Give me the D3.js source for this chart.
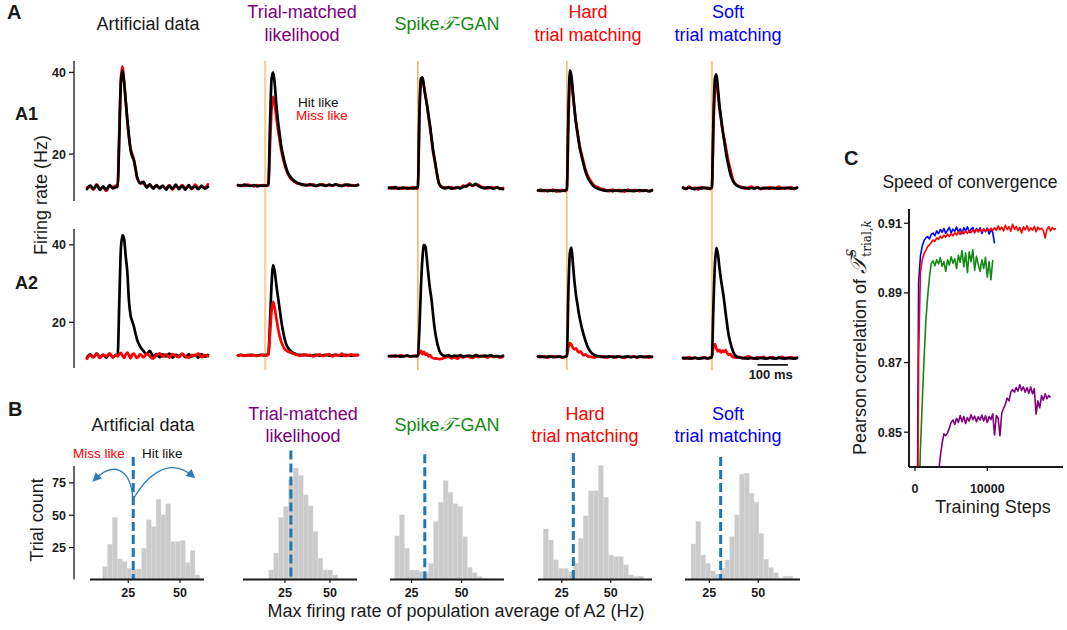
<!DOCTYPE html>
<html><head><meta charset="utf-8">
<script src="https://cdn.jsdelivr.net/npm/d3@7"></script>
<style>
body{margin:0;background:#fff}
text{font-family:"Liberation Sans",Arial,Helvetica,sans-serif}
</style>
</head><body>
<svg id="c" width="1067" height="630"></svg>
<script>
// ================= DATA =================
const methodTitles = [["Artificial data"],["Trial-matched","likelihood"],["Spike𝒯-GAN"],["Hard","trial matching"],["Soft","trial matching"]];

// Panel A: time (ms) of each sample, firing rates (Hz)
const aTimes = [-95,-85,-75,-65,-55,-45,-35,-25,-15,-5,0,5,10,15,20,25,30,35,40,45,50,55,60,70,80,90,100,110,120,130,140,150,160,170,180,190,200,210,220,230,240,250,260,270,280];
const aStimTimes = [null,-10,0,0,0];
const aYTicks = [20,40];

const a1ArtHit = [11.4,12.3,11.5,12.4,11.2,12.1,11.3,12.4,11.6,11.9, 12.0,24,37.5,40.5,37.5,33,28.5,24.5,21,19.5,18.5,16.5,14.5, 12.8,13.2,11.8,12.6,11.5,12.4,11.6,12.3,11.3,12.2,11.5,12.5,11.4,12.2,11.3,12.4,11.6,12.1,11.4,12.3,11.5,12.0];
const a1ArtMiss = [11.8,12.0,11.3,12.6,11.5,11.8,11.0,12.2,11.9,12.3, 12.2,25,38.5,41.5,38,33,28,24,21.5,20,18.8,16.8,14.2, 13.0,12.8,12.2,12.3,11.8,12.1,11.9,12.0,11.6,12.4,11.3,12.2,11.7,12.4,11.6,12.1,11.4,12.5,11.7,12.0,11.8,12.6];
const a1TmlHit = [12.4,12.2,12.5,12.3,12.2,12.4,12.1,12.3,12.2,12.3, 12.6,27,38.5,40,37,32,28,25,22,20,18.2,16.8,15.6, 14.3,13.5,13.0,12.7,12.5,12.3,12.6,12.3,12.2,12.5,12.4,12.2,12.5,12.3,12.6,12.3,12.2,12.4,12.5,12.3,12.2,12.4];
const a1TmlMiss = [12.3,12.4,12.2,12.5,12.3,12.1,12.4,12.2,12.4,12.2, 12.4,22,31,34,32,29,26,23.5,21,19.2,17.6,16.3,15.3, 14.0,13.3,12.8,12.6,12.4,12.5,12.3,12.6,12.2,12.4,12.6,12.3,12.4,12.2,12.5,12.4,12.3,12.6,12.2,12.4,12.3,12.5];
const a1GanHit = [11.8,11.6,11.9,11.5,11.7,11.8,11.5,11.7,11.6,11.8, 12.0,30,38.5,38.8,36.5,34,32,29.5,27,24,21,18.8,16.5, 12.6,11.8,11.6,11.9,11.5,11.7,11.8,11.6,12.0,12.2,12.5,12.3,12.7,12.1,11.8,11.6,11.9,11.7,11.5,11.8,11.6,11.4];
const a1GanMiss = [11.6,11.9,11.5,11.8,11.6,11.5,11.8,11.6,11.9,11.5, 11.8,29,38,38.5,36.5,34.5,32,29,26.5,23.5,20.5,18.5,16.2, 12.8,11.9,11.8,11.7,11.9,11.5,11.9,11.8,12.3,12.0,12.8,12.2,12.5,12.4,11.9,11.8,11.6,11.9,11.7,11.9,11.4,11.7];
const a1HardHit = [11.1,11.0,11.2,10.9,11.1,11.0,11.2,10.9,11.0,11.1, 11.5,30,40.5,39,35,31,27.5,25,22.5,20.5,19,17.5,16, 14,12.8,12,11.6,11.3,11.1,11.0,11.2,10.9,11.1,11.0,10.9,11.2,11.0,11.1,10.9,11.0,11.2,11.0,11.1,10.9,11.1];
const a1HardMiss = [11.0,11.3,10.9,11.2,11.0,11.3,10.8,11.1,11.2,10.9, 11.3,28,37.5,38,34.5,31,28,25.5,23,21,19.5,18,16.5, 14.5,13.2,12.3,11.9,11.5,11.4,11.1,10.9,11.3,11.0,11.2,11.1,10.8,11.3,10.9,11.2,11.1,10.9,11.2,11.0,10.9,11.2];
const a1SoftHit = [11.7,11.5,11.8,11.6,11.4,11.7,11.6,11.8,11.5,11.6, 12,28,38.5,39.5,36,32,29,26,23.5,21,18.8,17,15.3, 13.3,12.4,12.0,11.7,11.8,11.5,11.7,11.6,11.8,11.5,11.6,11.7,11.5,11.8,11.6,11.5,11.7,11.6,11.8,11.5,11.6,11.7];
const a1SoftMiss = [11.9,11.4,12.0,11.5,11.8,11.3,11.9,11.6,11.8,11.4, 11.8,26,36,37,34.5,31,28.5,26,24,22,20,18,16.5, 13.6,12.5,12.1,11.9,11.5,11.8,12.0,11.6,11.9,11.4,11.8,11.6,11.9,11.5,11.7,12.0,11.5,11.8,11.6,11.9,11.4,11.8];

const a2ArtHit = [10.9,11.7,11.0,11.9,11.2,11.6,10.9,11.8,11.1,11.5, 11.4,25,39,42.5,41.5,37,33,25.5,21.8,20.3,19,17.2,15.6, 13.7,12.6,11.8,12.6,11.2,11.8,11.0,11.7,11.2,11.9,10.9,11.6,11.3,11.8,11.0,11.7,11.2,11.6,10.9,11.8,11.1,11.6];
const a2ArtMiss = [10.6,11.5,11.0,11.9,10.8,11.6,11.2,12.0,10.9,11.6, 11.2,11.8,12.1,11.4,10.8,11.7,12.2,11.5,10.7,11.6,11.9,11.3,10.8, 11.7,11.0,11.9,11.2,10.6,11.5,12.0,11.1,11.7,10.9,11.8,11.3,11.0,11.9,11.2,10.8,11.6,11.4,11.9,11.0,11.5,11.2];
const a2TmlHit = [11.5,11.6,11.4,11.5,11.6,11.5,11.4,11.6,11.5,11.6, 11.8,20,30,34.8,33,29.5,26.5,23.5,20.5,18,16,14.5,13.6, 12.6,12.0,11.7,11.6,11.5,11.6,11.4,11.5,11.6,11.4,11.5,11.6,11.4,11.5,11.6,11.5,11.4,11.6,11.5,11.4,11.6,11.5];
const a2TmlMiss = [11.4,11.5,11.3,11.6,11.4,11.5,11.3,11.5,11.6,11.4, 11.6,17,23,25.3,23.5,21,18.5,16.5,15,14,13.2,12.8,12.5, 12.2,11.8,11.6,11.3,11.7,11.4,11.6,11.2,11.5,11.7,11.3,11.5,11.8,11.2,11.6,11.4,11.9,11.3,11.5,11.7,11.4,11.6];
const a2GanHit = [11.3,11.2,11.4,11.3,11.1,11.3,11.4,11.2,11.3,11.2, 11.4,18,29,36.5,40,39.5,36,32,28.5,25.8,22,18.5,16, 12.8,11.6,11.3,11.5,11.2,11.4,11.3,11.5,11.2,11.3,11.4,11.2,11.5,11.3,11.2,11.4,11.3,11.5,11.2,11.3,11.1,11.4];
const a2GanMiss = [11.2,11.4,11.1,11.3,11.5,11.2,11.4,11.1,11.3,11.4, 11.5,12,12.6,11.8,12.4,11.6,11.9,11.2,11.5,11.0,10.8,10.6,10.7, 10.5,10.6,10.9,11.1,10.7,11.0,10.6,11.2,10.9,11.3,11.0,10.8,11.2,11.0,11.4,11.1,10.9,11.3,11.0,11.2,10.9,11.1];
const a2HardHit = [11.1,11.2,11.0,11.1,11.2,11.0,11.1,11.2,11.0,11.1, 11.3,28,38,39.3,35,30.5,27,24.5,22,20,18.3,16.8,15.5, 13.4,12.2,11.6,11.3,11.2,11.0,11.1,11.2,11.0,11.1,11.2,11.0,11.1,11.2,11.0,11.1,11.0,11.2,11.1,11.0,11.2,11.1];
const a2HardMiss = [11.2,11.0,11.3,10.9,11.1,11.3,11.0,11.2,10.9,11.1, 11.4,13.5,14.6,14.2,13.4,13.0,13.3,12.6,12.2,12.5,11.9,11.5,11.7, 11.2,11.1,10.9,11.2,11.0,11.3,10.9,11.1,11.2,10.9,11.2,11.0,10.8,11.2,11.0,11.3,10.9,11.1,11.0,11.2,10.9,11.1];
const a2SoftHit = [10.7,10.8,10.6,10.7,10.8,10.6,10.7,10.8,10.7,10.8, 11,24,35,39.2,37.5,34,31,28.5,25.8,22.5,19.5,16.8,15, 12.4,11.2,10.9,10.8,10.7,10.6,10.8,10.7,10.6,10.8,10.7,10.6,10.8,10.7,10.6,10.8,10.7,10.6,10.8,10.7,10.6,10.8];
const a2SoftMiss = [10.9,10.6,11.0,10.7,10.9,10.6,10.8,11.0,10.7,10.9, 11.2,13.5,14.4,13.2,12.5,12.9,12.2,12.7,12.3,12.8,12.1,11.6,11.8, 11.0,10.9,11.1,10.7,10.9,11.2,10.8,10.6,11.0,10.8,11.1,10.7,10.9,11.0,10.6,10.9,11.1,10.8,10.7,11.0,10.8,10.9];

// Panel B: histograms of max firing rate (Hz) -> trial counts
const bBinStarts = [12.6,16.0,16.6,15.6,15.7];
const bBinWidths = [2.35,2.73,2.42,2.55,2.47];
const bArt  = [10.3,27.6,48.2,16.2,14.2,9,8,8.5,24.5,46.4,41.2,62.4,50.3,58.8,29.6,29.6,30.4,13.4,22.7,3.9];
const bTml  = [7.7,20.6,48.2,56.7,77.3,86.4,80.7,65.7,57.2,37.4,16.8,7.7,7.7,3.9];
const bGan  = [34,50.3,24.5,7.7,7.7,6.4,6,12.9,45.1,60.1,76.8,67.8,58.8,56.7,33.5,9.5,5.6,2.6,1.5,1.0,0.8,0.5];
const bHard = [39.4,30.9,15.5,9,9,6.4,12.9,32.2,49.5,68.8,68.8,88.4,63.9,19.3,18,18,11.6,3.9,2.6,3,0.5];
const bSoft = [27.8,45.1,19.3,12.9,7,4.5,9,15.5,33.5,50.3,81.7,82.5,67,60.1,36.1,16,9.5,5.6,1.5,3,3,1];
const bThresholds = [27.4,28.3,31.6,30.9,30.8];
const bThreshTops = [95,100,97,98,95];
const bXTicks = [25,50];
const bYTicks = [25,50,75];

// Panel C: Pearson correlation vs training steps (sampled every 250 steps)
const cStepInterval = 250;
const cBlueStart = 250;
const cBlue = [0.800,0.893,0.9005,0.9035,0.9050,0.9058,0.9062,0.9055,0.9068,0.9072,0.9064,0.9078,0.9070,0.9082,0.9074,0.9085,0.9071,0.9080,0.9088,0.9072,0.9083,0.9077,0.9089,0.9075,0.9084,0.9070,0.9087,0.9078,0.9090,0.9074,0.9083,0.9088,0.9073,0.9085,0.9078,0.9087,0.9071,0.9083,0.9076,0.9086,0.9069,0.9080,0.9074,0.9042];
const cRedStart = 250;
const cRed = [0.780,0.872,0.8960,0.8995,0.9012,0.9022,0.9033,0.9038,0.9045,0.9052,0.9048,0.9058,0.9054,0.9063,0.9057,0.9066,0.9060,0.9069,0.9062,0.9071,0.9064,0.9073,0.9066,0.9075,0.9068,0.9077,0.9070,0.9078,0.9071,0.9079,0.9073,0.9081,0.9074,0.9082,0.9075,0.9083,0.9076,0.9084,0.9077,0.9083,0.9078,0.9086,0.9079,0.9087,0.9080,0.9092,0.9081,0.9089,0.9078,0.9094,0.9082,0.9090,0.9077,0.9097,0.9083,0.9091,0.9079,0.9088,0.9072,0.9090,0.9081,0.9093,0.9078,0.9087,0.9080,0.9091,0.9076,0.9089,0.9082,0.9086,0.9079,0.9058,0.9083,0.9090,0.9078,0.9088,0.9082,0.9085];
const cGreenStart = 500;
const cGreen = [0.826,0.845,0.8585,0.871,0.882,0.889,0.8945,0.8985,0.8992,0.8978,0.8995,0.8983,0.9001,0.8976,0.8990,0.8962,0.8995,0.8980,0.9004,0.8985,0.8998,0.8970,0.9008,0.8988,0.9022,0.8975,0.9015,0.8958,0.9018,0.8990,0.9024,0.8965,0.9005,0.8982,0.8962,0.8995,0.8970,0.9002,0.8945,0.8990,0.8938,0.8995];
const cPurpleStart = 3250;
const cPurple = [0.838,0.843,0.8468,0.8495,0.8490,0.8498,0.8512,0.8528,0.8535,0.8522,0.8540,0.8528,0.8548,0.8530,0.8545,0.8525,0.8542,0.8532,0.8550,0.8536,0.8546,0.8530,0.8544,0.8535,0.8549,0.8532,0.8547,0.8528,0.8545,0.8536,0.8553,0.8492,0.8548,0.8540,0.8490,0.8555,0.8568,0.8580,0.8598,0.8590,0.8615,0.8622,0.8615,0.8628,0.8618,0.8636,0.8620,0.8630,0.8615,0.8628,0.8612,0.8630,0.8610,0.8625,0.8552,0.8590,0.8570,0.8605,0.8592,0.8610,0.8596,0.8605,0.8600];
const cXTicks = [0,10000];
const cYTicks = [0.85,0.87,0.89,0.91];

// ================= DRAWING =================
const svg = d3.select("#c");
svg.append("rect").attr("width",1067).attr("height",630).attr("fill","#fff");
const INK = "#1a1a1a";
const methodColors = [INK,"#800080","#138a13","#ff0000","#0000ff"];

function label(x,y,s,o={}){
  return svg.append("text").attr("x",x).attr("y",y).text(s)
    .attr("font-size",o.size||18).attr("fill",o.fill||INK)
    .attr("font-weight",o.weight||"normal")
    .attr("text-anchor",o.anchor||"middle");
}
function title(cx, lines, color, y1, y2, ysingle){
  if(lines.length===1){
    const s = lines[0];
    const t = svg.append("text").attr("x",cx).attr("y",ysingle).attr("font-size",18)
      .attr("fill",color).attr("text-anchor","middle");
    if(s.includes("𝒯")){
      const parts = s.split("𝒯");
      t.append("tspan").text(parts[0]);
      t.append("tspan").text("𝒯").attr("font-family","'DejaVu Serif',serif").attr("font-style","italic").attr("font-size",19);
      t.append("tspan").text(parts[1]);
    } else t.text(s);
  } else {
    label(cx,y1,lines[0],{fill:color});
    label(cx,y2,lines[1],{fill:color});
  }
}

// Panel letters
label(7,19,"A",{size:20,weight:"bold",anchor:"start"});
label(8,416,"B",{size:20,weight:"bold",anchor:"start"});
label(844,165,"C",{size:20,weight:"bold",anchor:"start"});

// ---------- Panel A ----------
const aXR = [[87,208],[238,358],[389,503],[538,652],[683,797]];
const aCX = [148,302,447,588,728];
const bCX = [143,303,447,585,728];
const yA1 = d3.scaleLinear().domain([8.5,42.8]).range([201,61]);
const yA2 = d3.scaleLinear().domain([8.2,44.1]).range([368,229]);
const a1Hit=[a1ArtHit,a1TmlHit,a1GanHit,a1HardHit,a1SoftHit];
const a1Miss=[a1ArtMiss,a1TmlMiss,a1GanMiss,a1HardMiss,a1SoftMiss];
const a2Hit=[a2ArtHit,a2TmlHit,a2GanHit,a2HardHit,a2SoftHit];
const a2Miss=[a2ArtMiss,a2TmlMiss,a2GanMiss,a2HardMiss,a2SoftMiss];
const stimStyle = [null,{c:"#fbd09a",w:2.2},{c:"#f0a030",w:1.2},{c:"#eba040",w:1.1},{c:"#f9cc92",w:2.2}];

methodTitles.forEach((lines,i)=>title(aCX[i],lines,methodColors[i],18,40.5,30));

function yAxis(x, y, ticks, y0, y1){
  const g = svg.append("g");
  g.append("line").attr("x1",x).attr("x2",x).attr("y1",y0).attr("y2",y1).attr("stroke",INK).attr("stroke-width",1.3);
  ticks.forEach(t=>{
    g.append("line").attr("x1",x-5).attr("x2",x).attr("y1",y(t)).attr("y2",y(t)).attr("stroke",INK).attr("stroke-width",1.3);
    g.append("text").attr("x",x-8).attr("y",y(t)+4.5).attr("text-anchor","end").attr("font-size",12.5)
      .attr("font-weight","bold").attr("fill",INK).text(t);
  });
}
yAxis(74,yA1,aYTicks,61,201);
yAxis(74,yA2,aYTicks,229,368);
label(15,120,"A1",{size:18,weight:"bold",anchor:"start"});
label(15,289,"A2",{size:18,weight:"bold",anchor:"start"});
svg.append("text").attr("transform","translate(47,195) rotate(-90)").attr("text-anchor","middle")
  .attr("font-size",18).attr("fill",INK).text("Firing rate (Hz)");

const aXScales = aXR.map(r=>d3.scaleLinear().domain([-95,280]).range(r));
aXScales.forEach((xs,i)=>{
  if(aStimTimes[i]!==null){
    svg.append("line").attr("x1",xs(aStimTimes[i])).attr("x2",xs(aStimTimes[i]))
      .attr("y1",61).attr("y2",370).attr("stroke",stimStyle[i].c).attr("stroke-width",stimStyle[i].w);
  }
});
function trace(xs, ys, vals, color){
  const ln = d3.line().x((d,i)=>xs(aTimes[i])).y(d=>ys(d)).curve(d3.curveMonotoneX);
  svg.append("path").attr("d",ln(vals)).attr("fill","none").attr("stroke",color)
    .attr("stroke-width",2.7).attr("stroke-linejoin","round").attr("stroke-linecap","round");
}
aXScales.forEach((xs,i)=>{
  trace(xs,yA1,a1Miss[i],"#ff0000");
  trace(xs,yA1,a1Hit[i],"#000000");
  if(i<2){ trace(xs,yA2,a2Hit[i],"#000000"); trace(xs,yA2,a2Miss[i],"#ff0000"); }
  else { trace(xs,yA2,a2Miss[i],"#ff0000"); trace(xs,yA2,a2Hit[i],"#000000"); }
});
label(298,107,"Hit like",{size:13.5,anchor:"start",fill:"#111"});
label(296,120,"Miss like",{size:13.5,anchor:"start",fill:"#ff0000"});
// scale bar (100 ms)
{
  const xs = aXScales[4];
  svg.append("line").attr("x1",xs(150)).attr("x2",xs(250)).attr("y1",yA2(9)).attr("y2",yA2(9))
    .attr("stroke","#000").attr("stroke-width",1.6);
  label((xs(150)+xs(250))/2-2,379,"100 ms",{size:13,weight:"bold"});
}

// ---------- Panel B ----------
const bXR = [[90,204],[243,357],[390,504],[538,652],[685,800]];
const bXD = [[6.5,61.6],[1.7,65],[14.2,71.2],[12.9,71],[12.6,71.3]];
const yB = d3.scaleLinear().domain([0,88]).range([580,466]);
const bCounts = [bArt,bTml,bGan,bHard,bSoft];
methodTitles.forEach((lines,i)=>title(bCX[i],lines,methodColors[i],419.5,442,431));

bCounts.forEach((counts,k)=>{
  const xs = d3.scaleLinear().domain(bXD[k]).range(bXR[k]);
  const g = svg.append("g");
  counts.forEach((c,i)=>{
    const lo = bBinStarts[k]+i*bBinWidths[k], hi = lo+bBinWidths[k];
    g.append("rect").attr("x",xs(lo)).attr("width",xs(hi)-xs(lo)).attr("y",yB(c)).attr("height",yB(0)-yB(c))
      .attr("fill","#cbcbcb").attr("stroke","#dcdcdc").attr("stroke-width",0.4);
  });
  g.append("line").attr("x1",xs(bThresholds[k])).attr("x2",xs(bThresholds[k]))
    .attr("y1",yB(bThreshTops[k])).attr("y2",yB(0)).attr("stroke","#1f77b4").attr("stroke-width",3)
    .attr("stroke-dasharray","9,4");
  g.append("line").attr("x1",bXR[k][0]).attr("x2",bXR[k][1]).attr("y1",579.5).attr("y2",579.5)
    .attr("stroke",INK).attr("stroke-width",2);
  bXTicks.forEach(t=>{
    g.append("line").attr("x1",xs(t)).attr("x2",xs(t)).attr("y1",579.5).attr("y2",583).attr("stroke",INK).attr("stroke-width",1.2);
    g.append("text").attr("x",xs(t)).attr("y",597).attr("text-anchor","middle").attr("font-size",12.5)
      .attr("font-weight","bold").attr("fill",INK).text(t);
  });
  if(k===0){
    const defs = svg.append("defs");
    defs.append("marker").attr("id","arr").attr("viewBox","0 0 10 10").attr("refX",7).attr("refY",5)
      .attr("markerWidth",7).attr("markerHeight",7).attr("orient","auto")
      .append("path").attr("d","M0,0 L10,5 L0,10 z").attr("fill","#2f7dbd");
    const pL = [[27.2,63],[26,88],[17,91],[8.6,77.3]];
    const pR = [[27.6,63],[33,78],[44,97],[56.4,79.9]];
    [pL,pR].forEach(p=>{
      const P = p.map(q=>[xs(q[0]),yB(q[1])]);
      g.append("path").attr("d",`M${P[0]}C${P[1]} ${P[2]} ${P[3]}`).attr("fill","none")
        .attr("stroke","#2f7dbd").attr("stroke-width",1.3).attr("marker-end","url(#arr)");
    });
  }
});
yAxis(74,yB,bYTicks,466,579.5);
label(73,458,"Miss like",{size:13.5,anchor:"start",fill:"#ff0000"});
label(142,458,"Hit like",{size:13.5,anchor:"start",fill:"#111"});
svg.append("text").attr("transform","translate(43,520) rotate(-90)").attr("text-anchor","middle")
  .attr("font-size",18).attr("fill",INK).text("Trial count");
label(456,617,"Max firing rate of population average of A2 (Hz)",{size:18});

// ---------- Panel C ----------
const xC = d3.scaleLinear().domain([-830,20470]).range([909,1063]);
const yC = d3.scaleLinear().domain([0.840,0.9141]).range([467,209]);
label(970,188,"Speed of convergence",{size:17.5});
svg.append("defs").append("clipPath").attr("id","cclip").append("rect")
  .attr("x",909).attr("y",205).attr("width",160).attr("height",262);
const cg = svg.append("g").attr("clip-path","url(#cclip)");
[[cPurple,cPurpleStart,"#800080"],[cGreen,cGreenStart,"#138a13"],[cBlue,cBlueStart,"#0000ff"],[cRed,cRedStart,"#ff0000"]].forEach(([vals,st,col])=>{
  const ln = d3.line().x((d,i)=>xC(st+i*cStepInterval)).y(d=>yC(d));
  cg.append("path").attr("d",ln(vals)).attr("fill","none").attr("stroke",col).attr("stroke-width",1.6).attr("stroke-linejoin","round");
});
svg.append("line").attr("x1",909).attr("x2",909).attr("y1",209).attr("y2",467).attr("stroke",INK).attr("stroke-width",2);
svg.append("line").attr("x1",909).attr("x2",1063).attr("y1",467).attr("y2",467).attr("stroke",INK).attr("stroke-width",2);
cYTicks.forEach(t=>{
  svg.append("line").attr("x1",904).attr("x2",909).attr("y1",yC(t)).attr("y2",yC(t)).attr("stroke",INK).attr("stroke-width",1.3);
  svg.append("text").attr("x",902).attr("y",yC(t)+4.5).attr("text-anchor","end").attr("font-size",12.5)
    .attr("font-weight","bold").attr("fill",INK).text(t.toFixed(2));
});
cXTicks.forEach(t=>{
  svg.append("line").attr("x1",xC(t)).attr("x2",xC(t)).attr("y1",467).attr("y2",471).attr("stroke",INK).attr("stroke-width",1.3);
  svg.append("text").attr("x",xC(t)).attr("y",493).attr("text-anchor","middle").attr("font-size",12.5)
    .attr("font-weight","bold").attr("fill",INK).text(t);
});
label(993,513,"Training Steps",{size:18});
{
  const t = svg.append("text").attr("transform","translate(866,455) rotate(-90)").attr("font-size",18).attr("fill",INK);
  t.append("tspan").text("Pearson correlation of ");
  t.append("tspan").text("𝒯").attr("font-family","'DejaVu Serif',serif").attr("font-style","italic").attr("font-size",22);
  t.append("tspan").text("S").attr("font-family","'DejaVu Serif',serif").attr("font-style","italic").attr("font-size",12).attr("dy",-10);
  t.append("tspan").text("trial,").attr("font-family","'DejaVu Serif',serif").attr("font-size",12).attr("dx",-8).attr("dy",15);
  t.append("tspan").text("k").attr("font-family","'DejaVu Serif',serif").attr("font-style","italic").attr("font-size",12);
}
</script>
</body></html>
